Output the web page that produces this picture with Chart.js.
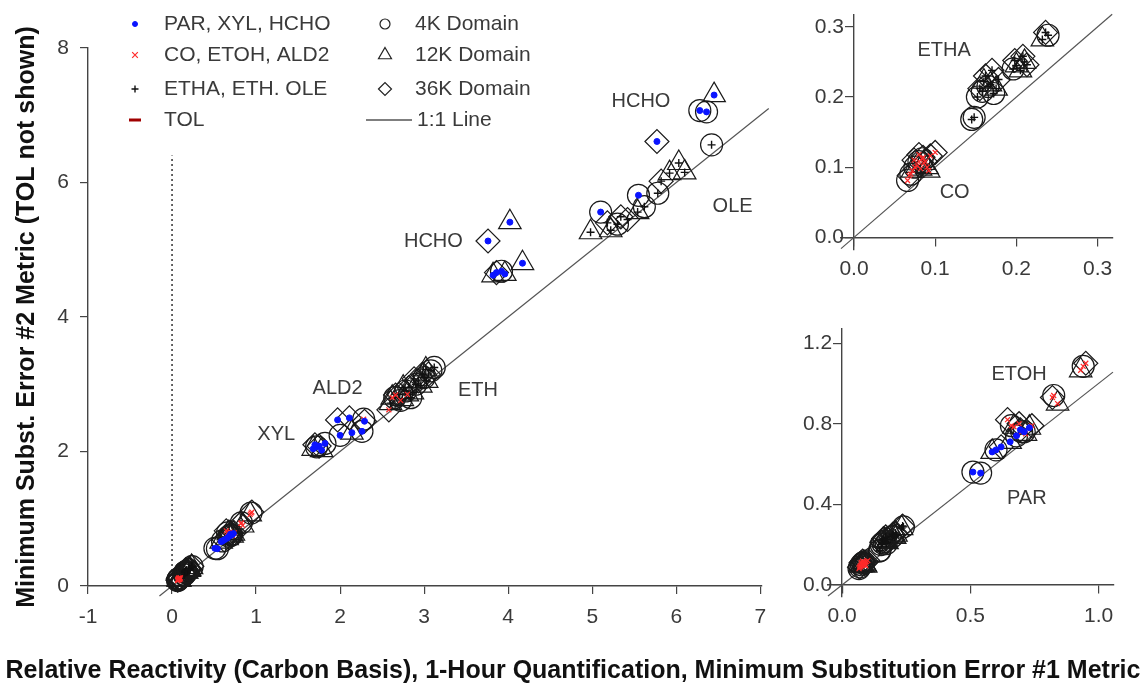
<!DOCTYPE html>
<html>
<head>
<meta charset="utf-8">
<script src="https://cdn.jsdelivr.net/npm/chart.js@4.4.1/dist/chart.umd.min.js"></script>
<style>
  html, body { margin: 0; padding: 0; background: #fff; }
  #wrap { position: relative; width: 1146px; height: 696px; overflow: hidden; background: #fff; }
  canvas { position: absolute; }
</style>
</head>
<body>
<div id="wrap">
  <canvas id="mainChart" width="1146" height="696" style="left:0;top:0"></canvas>
  <canvas id="topChart" width="366" height="300" style="left:780px;top:0"></canvas>
  <canvas id="botChart" width="366" height="386" style="left:780px;top:310px"></canvas>
</div>
<script>
// 🔹 Data: [metric #1, metric #2, domain]  (domain 0 = 4K, 1 = 12K, 2 = 36K)
const CO = [[0.066,0.081,0],[0.070,0.090,0],[0.075,0.100,0],[0.080,0.108,0],[0.084,0.112,0],
            [0.072,0.095,1],[0.078,0.102,1],[0.082,0.098,1],[0.086,0.106,1],[0.090,0.100,1],[0.092,0.095,1],
            [0.074,0.110,2],[0.080,0.118,2],[0.085,0.114,2],[0.088,0.108,2],[0.094,0.116,2],[0.100,0.121,2],[0.068,0.088,2]];
const ETHA = [[0.145,0.168,0],[0.148,0.171,0],[0.152,0.200,0],[0.158,0.208,0],[0.165,0.215,0],[0.172,0.205,0],
              [0.160,0.222,1],[0.168,0.218,1],[0.175,0.212,1],[0.155,0.212,2],[0.162,0.230,2],[0.170,0.238,2],[0.178,0.225,2],
              [0.196,0.240,0],[0.200,0.245,1],[0.205,0.238,1],[0.210,0.250,1],[0.198,0.252,2],[0.208,0.258,2],[0.213,0.246,2],
              [0.232,0.282,1],[0.236,0.292,2],[0.239,0.288,0]];
const PAR = [[0.51,0.56,0],[0.54,0.555,0],[0.585,0.66,1],[0.60,0.67,0],[0.62,0.685,2],[0.655,0.71,1],
             [0.68,0.74,0],[0.695,0.77,2],[0.73,0.78,1],[0.71,0.76,0]];
const ETOH = [[0.645,0.82,2],[0.66,0.79,0],[0.67,0.785,1],[0.69,0.80,2],[0.70,0.76,0],[0.715,0.75,1],[0.74,0.79,2],
              [0.82,0.93,2],[0.825,0.94,0],[0.84,0.90,1],[0.93,1.065,1],[0.95,1.10,2],[0.94,1.085,0]];
const XYL = [[1.68,2.04,1],[1.72,2.07,0],[1.75,2.08,2],[1.78,2.02,1],[1.70,2.10,2],[1.82,2.12,0],
             [1.97,2.47,2],[2.00,2.24,0],[2.11,2.50,2],[2.14,2.28,1],[2.26,2.30,0],[2.29,2.45,2]];
const ALD2 = [[2.28,2.48,0],[2.62,2.80,1],[2.66,2.84,2],[2.72,2.76,0],[2.80,2.85,1],[2.58,2.62,2]];
const ETH = [[2.60,2.72,1],[2.65,2.80,0],[2.70,2.85,2],[2.74,2.78,1],[2.78,2.90,0],[2.82,2.95,2],[2.86,2.88,1],
             [2.90,3.00,0],[2.93,3.05,2],[2.96,2.98,1],[3.00,3.10,0],[3.03,3.05,1],[3.05,3.15,2],[3.08,3.20,0],
             [3.12,3.25,0],[2.88,3.08,2],[2.98,3.15,2],[2.75,2.95,1],[3.02,3.22,1],[2.84,2.80,0]];
const HCHO = [[3.76,5.13,2],[4.02,5.41,1],[4.17,4.80,1],[3.86,4.66,2],[3.92,4.68,0],[3.96,4.64,1],[3.82,4.62,1],
              [5.10,5.56,0],[5.55,5.81,0],[5.77,6.61,2],[6.28,7.07,0],[6.36,7.05,0],[6.45,7.30,1]];
const OLE = [[6.42,6.56,0],[5.78,5.84,0],[6.03,6.29,1],[5.92,6.14,1],[5.82,6.02,2],[4.98,5.26,1],[5.22,5.29,1],
             [5.34,5.49,2],[5.54,5.56,1],[5.30,5.38,0],[5.42,5.45,2],[5.62,5.64,0],[5.18,5.40,2],[6.10,6.15,1]];
const TOL = []; // TOL not shown

// 🔹 Tick labels
const mainXTicks = [-1, 0, 1, 2, 3, 4, 5, 6, 7];
const mainYTicks = [0, 2, 4, 6, 8];
const topTicks = [0, 0.1, 0.2, 0.3];
const botXTicks = [0, 0.5, 1.0];
const botYTicks = [0, 0.4, 0.8, 1.2];

// 🔹 1:1 line ends and zero line
const mainOneToOne = [-0.15, 7.1];
const topOneToOne = [-0.016, 0.318];
const botOneToOne = [-0.055, 1.056];
const zeroLineY = [0, 6.4];

// 🔹 Text labels: [text, x, y]
const mainLabels = [["HCHO", 5.58, 7.2], ["OLE", 6.67, 5.65], ["HCHO", 3.11, 5.13], ["ETH", 3.64, 2.91], ["ALD2", 1.97, 2.94], ["XYL", 1.24, 2.26]];
const topLabels = [["ETHA", 0.111, 0.267], ["CO", 0.124, 0.064]];
const botLabels = [["ETOH", 0.69, 1.046], ["PAR", 0.72, 0.43]];

const X_TITLE = "Relative Reactivity (Carbon Basis), 1-Hour Quantification, Minimum Substitution Error #1 Metric";
const Y_TITLE = "Minimum Subst. Error #2 Metric (TOL not shown)";

const FONT = "'Liberation Sans', Arial, sans-serif";
const AXIS = "#444";
const TEXT = "#3a3a3a";

const GROUPS = [
    { label: "PAR, XYL, HCHO", sets: [PAR, XYL, HCHO], style: "circle", r: 3, color: "#0a14ff", fill: true, lw: 1 },
    { label: "CO, ETOH, ALD2", sets: [CO, ETOH, ALD2], style: "crossRot", r: 3.5, color: "#ff2a2a", fill: false, lw: 1.2 },
    { label: "ETHA, ETH. OLE", sets: [ETHA, ETH, OLE], style: "cross", r: 4, color: "#111", fill: false, lw: 1.4 },
    { label: "TOL", sets: [TOL], style: "line", r: 6, color: "#a00000", fill: false, lw: 3 }
];
const DOMAINS = [
    { label: "4K Domain", style: "circle", r: 11 },
    { label: "12K Domain", style: "triangle", r: 13 },
    { label: "36K Domain", style: "rectRot", r: 12 }
];
const allPoints = GROUPS.flatMap(g => g.sets.flat());

function buildDatasets(oneToOne, zero) {
    const ds = [];
    GROUPS.forEach((g, i) => ds.push({
        type: "scatter", order: i, clip: 14,
        data: g.sets.flat().map(p => ({ x: p[0], y: p[1] })),
        pointStyle: g.style, pointRadius: g.r, pointBorderWidth: g.lw,
        pointBorderColor: g.color, pointBackgroundColor: g.fill ? g.color : "rgba(0,0,0,0)"
    }));
    DOMAINS.forEach((d, i) => ds.push({
        type: "scatter", order: 10 + i, clip: 14,
        data: allPoints.filter(p => p[2] === i).map(p => ({ x: p[0], y: p[1] })),
        pointStyle: d.style, pointRadius: d.r, pointBorderWidth: 1.2,
        pointBorderColor: "#1a1a1a", pointBackgroundColor: "rgba(0,0,0,0)"
    }));
    ds.push({
        type: "line", order: 20, clip: false, showLine: true,
        data: oneToOne.map(v => ({ x: v, y: v })),
        borderColor: "#555", borderWidth: 1.2, pointRadius: 0
    });
    if (zero) ds.push({
        type: "line", order: 21, showLine: true,
        data: zero.map(v => ({ x: 0, y: v })),
        borderColor: "#333", borderWidth: 1.5, borderDash: [2, 3], pointRadius: 0
    });
    return ds;
}

function axisOpts(min, max, ticks, fmt, extra) {
    return Object.assign({
        type: "linear", min, max,
        afterBuildTicks: s => { s.ticks = ticks.map(v => ({ value: v })); },
        grid: { drawOnChartArea: false, tickLength: 8, color: AXIS, lineWidth: 1.2 },
        border: { color: AXIS, width: 1.4 },
        ticks: { color: TEXT, font: { size: 21, family: FONT }, padding: 11, callback: fmt }
    }, extra);
}

// 🔹 Text labels plugin (annotations, crossing-axis tick labels, page title)
const labelPlugin = {
    id: "labels",
    afterDatasetsDraw(chart, args, opts) {
        const { ctx, scales: { x, y } } = chart;
        ctx.save();
        ctx.font = "20px " + FONT;
        ctx.fillStyle = TEXT;
        ctx.textAlign = "center";
        ctx.textBaseline = "middle";
        (opts.items || []).forEach(([t, vx, vy]) => ctx.fillText(t, x.getPixelForValue(vx), y.getPixelForValue(vy)));
        if (opts.yLabels) {
            // y axis crosses at x = 0: labels sit left of its ticks
            ctx.font = "21px " + FONT;
            ctx.textAlign = "right";
            const x0 = x.getPixelForValue(0) - 10;
            y.ticks.forEach(t => ctx.fillText(t.value.toFixed(1), x0, y.getPixelForValue(t.value)));
        }
        if (opts.title) {
            ctx.font = "bold 25px " + FONT;
            ctx.fillStyle = "#111";
            ctx.fillText(opts.title, chart.width / 2, 671);
        }
        ctx.restore();
    }
};

function mark(ctx, style, r, color, fill, lw, px, py) {
    ctx.save();
    ctx.strokeStyle = color;
    ctx.fillStyle = fill ? color : "rgba(0,0,0,0)";
    ctx.lineWidth = lw;
    Chart.helpers.drawPoint(ctx, { pointStyle: style, radius: r, borderWidth: lw, rotation: 0 }, px, py);
    ctx.restore();
}

// 🔹 Legend plugin (main chart only)
const legendPlugin = {
    id: "customLegend",
    afterDraw(chart) {
        const ctx = chart.ctx;
        const rows = [24, 55, 89, 120];
        ctx.save();
        ctx.font = "21px " + FONT;
        ctx.fillStyle = TEXT;
        ctx.textBaseline = "middle";
        const small = [2.5, 4, 3.5, 6];
        GROUPS.forEach((g, i) => {
            mark(ctx, g.style, small[i], g.color, g.fill, g.lw, 135, rows[i]);
            ctx.fillStyle = TEXT;
            ctx.fillText(g.label, 164, rows[i]);
        });
        const dsz = [5, 7.5, 6.5];
        DOMAINS.forEach((d, i) => {
            mark(ctx, d.style, dsz[i], "#222", false, 1.2, 385, rows[i]);
            ctx.fillStyle = TEXT;
            ctx.fillText(d.label, 415, rows[i]);
        });
        ctx.strokeStyle = "#555";
        ctx.lineWidth = 1.6;
        ctx.beginPath();
        ctx.moveTo(366, rows[3]);
        ctx.lineTo(412, rows[3]);
        ctx.stroke();
        ctx.fillText("1:1 Line", 417, rows[3]);
        ctx.restore();
    }
};

const common = {
    responsive: false, animation: false, events: [],
    plugins: { legend: { display: false }, tooltip: { enabled: false } }
};

// 🔹 Main chart
new Chart(document.getElementById("mainChart"), {
    type: "scatter",
    data: { datasets: buildDatasets(mainOneToOne, zeroLineY) },
    options: Object.assign({}, common, {
        layout: { padding: { left: 0, right: 384, top: 48, bottom: 0 } },
        scales: {
            x: axisOpts(-1, 7.02, mainXTicks, v => String(v), { position: "bottom", afterFit: s => { s.height = 110; } }),
            y: axisOpts(0, 8, mainYTicks, v => String(v), {
                position: "left", afterFit: s => { s.width = 88; },
                title: { display: true, text: Y_TITLE, color: "#111", font: { size: 25, weight: "bold", family: FONT }, padding: { top: 12, bottom: 0 } }
            })
        },
        plugins: Object.assign({}, common.plugins, {
            labels: { items: mainLabels, title: X_TITLE }
        })
    }),
    plugins: [labelPlugin, legendPlugin]
});

function insetY(min, max, ticks) {
    const a = axisOpts(min, max, ticks, v => v.toFixed(1), { position: { x: 0 } });
    a.ticks.display = false;
    return a;
}

// 🔹 Upper inset (0 - 0.3)
new Chart(document.getElementById("topChart"), {
    type: "scatter",
    data: { datasets: buildDatasets(topOneToOne) },
    options: Object.assign({}, common, {
        layout: { padding: { left: 61, right: 33, top: 13, bottom: 50 } },
        scales: {
            x: axisOpts(-0.016, 0.319, topTicks, v => v.toFixed(1), { position: { y: 0 } }),
            y: insetY(-0.018, 0.318, topTicks)
        },
        plugins: Object.assign({}, common.plugins, { labels: { items: topLabels, yLabels: true } })
    }),
    plugins: [labelPlugin]
});

// 🔹 Lower inset (0 - 1.0)
new Chart(document.getElementById("botChart"), {
    type: "scatter",
    data: { datasets: buildDatasets(botOneToOne) },
    options: Object.assign({}, common, {
        layout: { padding: { left: 48, right: 32, top: 19, bottom: 99 } },
        scales: {
            x: axisOpts(-0.055, 1.06, botXTicks, v => v.toFixed(1), { position: { y: 0 } }),
            y: insetY(-0.06, 1.27, botYTicks)
        },
        plugins: Object.assign({}, common.plugins, { labels: { items: botLabels, yLabels: true } })
    }),
    plugins: [labelPlugin]
});
</script>
</body>
</html>
